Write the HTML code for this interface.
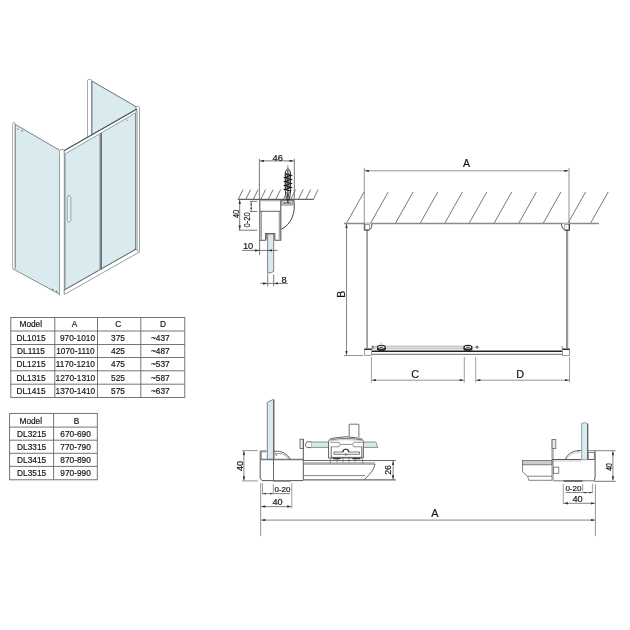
<!DOCTYPE html>
<html><head><meta charset="utf-8">
<style>
html,body{margin:0;padding:0;background:#fff;width:630px;height:630px;overflow:hidden}
svg{position:absolute;left:0;top:0;display:block;filter:blur(0.3px)}
text{font-family:"Liberation Sans",sans-serif;fill:#151515;stroke:#151515;stroke-width:0.18px}
</style></head>
<body>
<svg width="630" height="630" viewBox="0 0 630 630">
<defs>
<marker id="ar" viewBox="0 0 10 6" refX="10" refY="3" markerWidth="4.6" markerHeight="2.5" orient="auto-start-reverse" markerUnits="userSpaceOnUse"><path d="M0,0 L10,3 L0,6 z" fill="#333"/></marker>
<marker id="ars" viewBox="0 0 10 6" refX="10" refY="3" markerWidth="3" markerHeight="2" orient="auto-start-reverse" markerUnits="userSpaceOnUse"><path d="M0,0 L10,3 L0,6 z" fill="#333"/></marker>
</defs>
<rect width="630" height="630" fill="#fff"/>

<!-- ============ ISOMETRIC ============ -->
<g id="iso" fill="none" stroke="#8c9497" stroke-width="0.9">
  <!-- glass fills -->
  <polygon fill="#daebf0" stroke="none" points="92,81 136,106.5 136,110 92,135"/>
  <polygon fill="#daebf0" stroke="none" points="15.5,125 59.5,150.5 59.5,294 15.5,269"/>
  <polygon fill="#daebf0" stroke="none" points="64,154 136,113 136,249.5 64,290"/>
  <!-- back panel -->
  <path d="M87.5,137 V80.4 A2.15,1 0 0 1 91.8,80.4 V137" fill="#fff" stroke="#9aa2a5"/>
  <line x1="91.8" y1="81" x2="91.8" y2="136" stroke="#7a8285" stroke-width="1.1"/>
  <line x1="91.8" y1="81" x2="137" y2="107.2" stroke="#5f676a"/>
  <!-- left panel -->
  <path d="M12.6,268.3 V123.3 A1.35,1 0 0 1 15.3,123.3 V268.6" fill="#fff" stroke="#a0a8ab"/>
  <line x1="15.3" y1="124" x2="15.3" y2="268.6" stroke="#8f979a" stroke-width="1.3"/>
  <line x1="15.6" y1="124.6" x2="59.5" y2="150.2" stroke="#6a7275"/>
  <line x1="12.5" y1="268.5" x2="59.5" y2="294.2" stroke="#6f777a"/>
  <!-- front corner post -->
  <path d="M59.5,295.6 V150.6 A2.4,1.1 0 0 1 64.3,150.6 V294" fill="#fff" stroke="#8c9497"/>
  <line x1="64.9" y1="152" x2="64.9" y2="294" stroke="#8a9295" stroke-width="1.3"/>
  <!-- right post -->
  <path d="M135.7,252.2 V107.4 A1.9,1 0 0 1 139.5,107.4 V251.5" fill="#fff" stroke="#8c9497"/>
  <line x1="135.7" y1="110" x2="135.7" y2="250" stroke="#7f8789" stroke-width="1.1"/>
  <line x1="137.1" y1="111" x2="137.1" y2="250.5" stroke="#b4b8ba" stroke-width="1.3"/>
  <!-- top rail -->
  <polygon points="64.3,150.6 137,109 136,112.7 64.3,154.4" fill="#fff" stroke="#8c9497"/>
  <line x1="64.3" y1="150.6" x2="137" y2="109" stroke="#505759" stroke-width="1.1"/>
  <!-- bottom rail -->
  <polygon points="64.3,290 135.7,249.3 139.5,252 64.3,294.5" fill="#fff" stroke="#8c9497"/>
  <line x1="64.3" y1="290" x2="135.7" y2="249.3" stroke="#6a7275" stroke-width="1"/>
  <!-- middle divider -->
  <line x1="99.6" y1="133" x2="99.6" y2="269.5" stroke="#aab2b5" stroke-width="0.9"/>
  <line x1="101.1" y1="133" x2="101.1" y2="269.5" stroke="#6a7073" stroke-width="1.8"/>
  <!-- handle -->
  <polygon points="67.3,197.2 69,194.9 70.9,197.2 70.9,220.6 69,222.8 67.3,220.6" fill="#e2f0f4" stroke="#8c9497" stroke-width="0.8"/>
  <!-- small marks -->
  <g stroke="#444" stroke-width="0.9">
    <line x1="17.8" y1="128.5" x2="18.2" y2="129.8"/><line x1="21.5" y1="130.5" x2="23" y2="131.2"/>
    <line x1="56" y1="290.8" x2="57.3" y2="292"/><line x1="52" y1="289" x2="53.5" y2="289.8"/>
    <line x1="126.5" y1="119.8" x2="127.5" y2="120.6"/>
    <line x1="134" y1="250" x2="135.5" y2="249"/>
  </g>
</g>

<!-- ============ TABLE 1 ============ -->
<g fill="none" stroke="#666" stroke-width="0.9">
  <rect x="10.8" y="317.5" width="174" height="80"/>
  <line x1="10.8" y1="331" x2="184.8" y2="331"/>
  <line x1="10.8" y1="344.5" x2="184.8" y2="344.5"/>
  <line x1="10.8" y1="357.5" x2="184.8" y2="357.5"/>
  <line x1="10.8" y1="370.8" x2="184.8" y2="370.8"/>
  <line x1="10.8" y1="384.2" x2="184.8" y2="384.2"/>
  <line x1="54.8" y1="317.5" x2="54.8" y2="397.5"/>
  <line x1="97.5" y1="317.5" x2="97.5" y2="397.5"/>
  <line x1="140.8" y1="317.5" x2="140.8" y2="397.5"/>
</g>
<g font-size="8.3" text-anchor="middle">
  <text x="30.8" y="327.3">Model</text><text x="74.6" y="327.3">A</text><text x="118.2" y="327.3">C</text><text x="162.9" y="327.3">D</text>
  <text x="31" y="340.6">DL1015</text><text x="77.5" y="340.6">970-1010</text><text x="118" y="340.6">375</text><text x="160.3" y="340.6">~437</text>
  <text x="31" y="354">DL1115</text><text x="75.4" y="354">1070-1110</text><text x="118" y="354">425</text><text x="160.3" y="354">~487</text>
  <text x="31" y="367.3">DL1215</text><text x="75.4" y="367.3">1170-1210</text><text x="118" y="367.3">475</text><text x="160.3" y="367.3">~537</text>
  <text x="31" y="380.6">DL1315</text><text x="75.4" y="380.6">1270-1310</text><text x="118" y="380.6">525</text><text x="160.3" y="380.6">~587</text>
  <text x="31" y="394">DL1415</text><text x="75.4" y="394">1370-1410</text><text x="118" y="394">575</text><text x="160.3" y="394">~637</text>
</g>

<!-- ============ TABLE 2 ============ -->
<g fill="none" stroke="#666" stroke-width="0.9">
  <rect x="9.6" y="413.4" width="87.7" height="66.4"/>
  <line x1="9.6" y1="427.1" x2="97.3" y2="427.1"/>
  <line x1="9.6" y1="440.2" x2="97.3" y2="440.2"/>
  <line x1="9.6" y1="453.3" x2="97.3" y2="453.3"/>
  <line x1="9.6" y1="466.4" x2="97.3" y2="466.4"/>
  <line x1="53.6" y1="413.4" x2="53.6" y2="479.8"/>
</g>
<g font-size="8.3" text-anchor="middle">
  <text x="30.8" y="423.6">Model</text><text x="76.5" y="423.6">B</text>
  <text x="31.6" y="436.7">DL3215</text><text x="75.6" y="436.7">670-690</text>
  <text x="31.6" y="449.8">DL3315</text><text x="75.6" y="449.8">770-790</text>
  <text x="31.6" y="462.9">DL3415</text><text x="75.6" y="462.9">870-890</text>
  <text x="31.6" y="476">DL3515</text><text x="75.6" y="476">970-990</text>
</g>


<!-- ============ TOP DETAIL ============ -->
<g fill="none" stroke="#555" stroke-width="0.8">
  <line x1="238.30" y1="199.3" x2="243.10" y2="189.5"/><line x1="245.81" y1="199.3" x2="250.61" y2="189.5"/><line x1="253.32" y1="199.3" x2="258.12" y2="189.5"/><line x1="260.83" y1="199.3" x2="265.63" y2="189.5"/><line x1="268.34" y1="199.3" x2="273.14" y2="189.5"/><line x1="275.85" y1="199.3" x2="280.65" y2="189.5"/><line x1="283.36" y1="199.3" x2="288.16" y2="189.5"/><line x1="290.87" y1="199.3" x2="295.67" y2="189.5"/><line x1="298.38" y1="199.3" x2="303.18" y2="189.5"/><line x1="305.89" y1="199.3" x2="310.69" y2="189.5"/><line x1="313.40" y1="199.3" x2="318.20" y2="189.5"/>
  <line x1="237.8" y1="199.4" x2="313.7" y2="199.4" stroke="#666" stroke-width="1.2"/>
  <!-- dim 46 -->
  <line x1="259.4" y1="158.9" x2="259.4" y2="199"/>
  <line x1="294.3" y1="158.9" x2="294.3" y2="199"/>
  <line x1="260" y1="160.9" x2="293.7" y2="160.9" marker-start="url(#ar)" marker-end="url(#ar)"/>
  <!-- dim 40 -->
  <line x1="239.7" y1="200" x2="239.7" y2="229.7" marker-start="url(#ar)" marker-end="url(#ar)"/>
  <line x1="238.5" y1="230.2" x2="257.2" y2="230.2"/>
  <!-- dim 0-20 -->
  <line x1="251.2" y1="201.3" x2="251.2" y2="211.5"/>
  <line x1="249.9" y1="201.3" x2="257.2" y2="201.3"/>
  <line x1="249.9" y1="211.5" x2="257.2" y2="211.5"/>
  <circle cx="251.2" cy="204.3" r="0.8" fill="#333" stroke="none"/>
  <circle cx="251.2" cy="208.3" r="0.8" fill="#333" stroke="none"/>
  <!-- dim 10 -->
  <line x1="259.6" y1="240" x2="259.6" y2="255"/>

  <!-- dim 8 -->
  <line x1="267.7" y1="274.5" x2="267.7" y2="286.3"/>
  <line x1="273.7" y1="274.5" x2="273.7" y2="286.3"/>
  <line x1="267.7" y1="283.4" x2="273.7" y2="283.4"/>
  <line x1="260.5" y1="283.4" x2="267.3" y2="283.4" marker-end="url(#ar)"/>
  <line x1="287.8" y1="283.4" x2="274.1" y2="283.4" marker-end="url(#ar)"/>
  <!-- bracket -->
  <path d="M259.8,199.8 H280.8 V240.2 H274.8 V233.5 H265.7 V240.2 H259.8 Z" stroke="#555" stroke-width="1.1"/>
  <line x1="261.4" y1="211.3" x2="261.4" y2="239.5" stroke="#999" stroke-width="1.1"/>
  <line x1="279.3" y1="211.3" x2="279.3" y2="239.5" stroke="#999" stroke-width="1.1"/>
  <line x1="259.8" y1="211.3" x2="280.8" y2="211.3" stroke="#666" stroke-width="1"/>
  <line x1="260.5" y1="200.8" x2="280" y2="200.8" stroke="#999" stroke-width="0.8"/>
  <path d="M266.6,239.5 V234.6 H273.9 V239.5" stroke="#8a8a8a" stroke-width="1.3"/>
  <!-- cover -->
  <path d="M280.8,200 H293.8 C296,212 291.5,224.5 281.4,229.2" stroke="#444" stroke-width="1"/>
  
  <path d="M281.8,200.8 H292.8 V205 H281.8 Z" fill="#fff" stroke="#555" stroke-width="0.8"/><line x1="283" y1="203" x2="291.5" y2="203" stroke="#222" stroke-width="1"/>
  <!-- glass -->
  <path d="M267.6,234 V273.5 L273.7,271.6 V234 Z" fill="#d8eaf0" stroke="#777" stroke-width="0.9"/>
  <line x1="242" y1="250.4" x2="259.2" y2="250.4" marker-end="url(#ar)"/>
  <line x1="277.6" y1="250.4" x2="268" y2="250.4" marker-end="url(#ar)"/>
  <line x1="259" y1="250.4" x2="268" y2="250.4"/>
  <!-- screw -->
  <line x1="287.9" y1="165.3" x2="287.9" y2="170" stroke="#666"/>
  <path d="M285.3,191 V173 Q286,169 287.9,168.6 Q289.8,169 290.6,173 V191 L289.4,199.5 H286.4 Z" stroke="#333" stroke-width="1" fill="#fff"/>
  <path d="M284.8,173.5 L291,175.5 L284.8,177.5 L291,179.5 L284.8,181.5 L291,183.5 L284.8,185.5 L291,187.5 L284.8,189.5 L291,191" stroke="#111" stroke-width="1.2"/>
  <path d="M284.8,175.5 L291,173.5 M284.8,179.5 L291,177.5 M284.8,183.5 L291,181.5 M284.8,187.5 L291,185.5" stroke="#333" stroke-width="1"/>
  <path d="M286,192 L289.6,198 M289.8,192 L286.2,198" stroke="#555" stroke-width="0.7"/>
  <line x1="287.9" y1="170" x2="287.9" y2="203" stroke="#222" stroke-width="1.1"/>
</g>
<g font-size="9.4" fill="#151515">
  <text x="277.7" y="160.6" text-anchor="middle">46</text>
  <text x="248.1" y="248.8" text-anchor="middle">10</text>
  <text x="284.2" y="282.6" text-anchor="middle">8</text>
  <text transform="translate(238.5,213.9) rotate(-90)" text-anchor="middle" textLength="8.4" lengthAdjust="spacingAndGlyphs">40</text>
  <text transform="translate(249.9,219.9) rotate(-90)" text-anchor="middle" font-size="8.6" textLength="15.4" lengthAdjust="spacingAndGlyphs">0-20</text>
</g>


<!-- ============ ELEVATION ============ -->
<g fill="none" stroke="#555" stroke-width="0.8">
  <line x1="346.3" y1="223.5" x2="364.1" y2="192"/><line x1="370.4" y1="223.5" x2="388.2" y2="192"/><line x1="395.3" y1="223.5" x2="413.1" y2="192"/><line x1="420.0" y1="223.5" x2="437.8" y2="192"/><line x1="444.6" y1="223.5" x2="462.4" y2="192"/><line x1="469.0" y1="223.5" x2="486.8" y2="192"/><line x1="493.9" y1="223.5" x2="511.7" y2="192"/><line x1="518.6" y1="223.5" x2="536.4" y2="192"/><line x1="543.1" y1="223.5" x2="560.9" y2="192"/><line x1="567.8" y1="223.5" x2="585.6" y2="192"/><line x1="590.4" y1="223.5" x2="608.2" y2="192"/>
  <line x1="344" y1="223.5" x2="599" y2="223.5" stroke="#8a8a8a" stroke-width="1.3"/>
  <!-- dim A -->
  <line x1="364.3" y1="167.8" x2="364.3" y2="223.5" stroke="#777"/>
  <line x1="569" y1="167.8" x2="569" y2="223.5" stroke="#777"/>
  <line x1="364.8" y1="170.8" x2="568.5" y2="170.8" stroke="#777" marker-start="url(#ar)" marker-end="url(#ar)"/>
  <!-- dim B -->
  <line x1="346.5" y1="224" x2="346.5" y2="355" stroke="#666" marker-start="url(#ar)" marker-end="url(#ar)"/>
  <line x1="344" y1="355.5" x2="363" y2="355.5" stroke="#777"/>
  <!-- dim C / D -->
  <line x1="371.4" y1="357" x2="371.4" y2="382.6" stroke="#888"/>
  <line x1="464.3" y1="357" x2="464.3" y2="382.6" stroke="#888"/>
  <line x1="475.7" y1="357" x2="475.7" y2="382.6" stroke="#888"/>
  <line x1="569.5" y1="357" x2="569.5" y2="382.6" stroke="#888"/>
  <line x1="371.9" y1="380.2" x2="463.8" y2="380.2" stroke="#777" marker-start="url(#ar)" marker-end="url(#ar)"/>
  <line x1="476.2" y1="380.2" x2="569" y2="380.2" stroke="#777" marker-start="url(#ar)" marker-end="url(#ar)"/>
  <!-- glass lines -->
  <line x1="367.1" y1="229" x2="367.1" y2="349" stroke="#999" stroke-width="1.7"/>
  <line x1="567.1" y1="229" x2="567.1" y2="349" stroke="#999" stroke-width="2.2"/>
  <!-- top brackets -->
  <path d="M364.3,223.6 V230.2 H369 Q372.5,228 371.8,223.6" stroke="#333" stroke-width="0.9" fill="#fff"/>
  <path d="M569.5,223.6 V230.5 H565.2 Q561.5,229 561.4,223.8" stroke="#333" stroke-width="0.9" fill="#fff"/>
  <rect x="365" y="224.5" width="4.5" height="5" stroke="#666" stroke-width="0.6"/>
  <rect x="564.8" y="224.5" width="4" height="5" stroke="#666" stroke-width="0.6"/>
  <!-- upper band -->
  <rect x="372" y="346" width="100.5" height="3" fill="#d9d9d9" stroke="#aaa" stroke-width="0.6"/>
  <!-- rail -->
  <line x1="371.5" y1="351.2" x2="562.4" y2="351.2" stroke="#222" stroke-width="1.4"/>
  <line x1="371.5" y1="354.3" x2="562.4" y2="354.3" stroke="#888" stroke-width="1.2"/>
  <!-- blocks -->
  <rect x="364.6" y="348.7" width="6.9" height="6.7" fill="#fff" stroke="#9a9a9a" stroke-width="1"/>
  <line x1="364.6" y1="349.4" x2="371.5" y2="349.4" stroke="#333" stroke-width="1.3"/>
  <rect x="562.5" y="348.7" width="7" height="6.8" fill="#fff" stroke="#9a9a9a" stroke-width="1"/>
  <line x1="562.5" y1="349.4" x2="569.5" y2="349.4" stroke="#333" stroke-width="1.3"/>
  <!-- rollers -->
  <path d="M377.6,347.3 V350 Q381.4,351.8 385.2,350 V347.3" fill="#555" stroke="#222" stroke-width="0.9"/>
  <ellipse cx="381.4" cy="347.3" rx="3.9" ry="2" fill="#fff" stroke="#222" stroke-width="1.2"/>
  <ellipse cx="381.4" cy="347.4" rx="2" ry="0.7" fill="#555" stroke="none"/>
  <line x1="381.4" y1="342.6" x2="381.4" y2="345.3" stroke="#c4c4c4" stroke-width="1.5"/>
  <path d="M464,347.3 V350 Q467.9,351.8 471.8,350 V347.3" fill="#555" stroke="#222" stroke-width="0.9"/>
  <ellipse cx="467.9" cy="347.3" rx="3.9" ry="2" fill="#fff" stroke="#222" stroke-width="1.2"/>
  <ellipse cx="467.9" cy="347.4" rx="2" ry="0.7" fill="#555" stroke="none"/>
  <circle cx="477.1" cy="347.2" r="1.1" stroke="#333" stroke-width="0.9"/>
  <line x1="472" y1="347.4" x2="476" y2="347.4" stroke="#aaa" stroke-width="0.6"/>
  <path d="M371.8,346.5 L373.5,346.8 L372.4,349" stroke="#333" stroke-width="0.8"/>
  <path d="M562,346 L562.3,348.6" stroke="#555" stroke-width="0.7"/>
</g>
<g font-size="10.5" fill="#151515" text-anchor="middle">
  <text x="466.4" y="166.9">A</text>
  <text x="415.2" y="377.9" font-size="10.8">C</text>
  <text x="520.2" y="377.9" font-size="10.8">D</text>
  <text transform="translate(345.2,294.3) rotate(-90)">B</text>
</g>


<!-- ============ BOTTOM LEFT SECTION ============ -->
<g fill="none" stroke="#555" stroke-width="0.8">
  <!-- vertical glass -->
  <path d="M267.3,459.4 V402.3 L273.8,399.2 V459.4 Z" fill="#d8eaf0" stroke="#777" stroke-width="0.9"/>
  <line x1="273.8" y1="400" x2="273.8" y2="459.4" stroke="#555" stroke-width="1"/>
  <!-- profile -->
  <path d="M266.7,451 H260.2 V478.2 L262,480.6 H303.3" stroke="#555" stroke-width="1"/>
  <path d="M273.5,481.3 H291" stroke="#999" stroke-width="1.4"/>
  <path d="M261.5,459 V452 H266" stroke="#999" stroke-width="0.9"/>
  <line x1="260" y1="459.5" x2="303.3" y2="459.5" stroke="#7a7a7a" stroke-width="1.5"/>
  <line x1="273.5" y1="459.4" x2="273.5" y2="480.9" stroke="#555" stroke-width="0.9"/>
  <!-- seal -->
  <path d="M274,451.3 Q285,450 290.6,459.4" stroke="#555" stroke-width="0.9"/>
  <path d="M275,453.8 Q283.5,451.8 289,459" stroke="#888" stroke-width="0.8"/>
  <path d="M275.5,453.5 L277,456" stroke="#555" stroke-width="0.8"/>
  <!-- knob -->
  <rect x="300" y="439.2" width="3.5" height="9.3" fill="#eee" stroke="#555" stroke-width="0.8"/>
  <line x1="303.3" y1="439.2" x2="303.3" y2="479.8" stroke="#555" stroke-width="1"/>
  <!-- dim 40 vertical -->
  <line x1="242.2" y1="450.6" x2="257.8" y2="450.6" stroke="#777"/>
  <line x1="242.2" y1="480.9" x2="257.8" y2="480.9" stroke="#777"/>
  <line x1="243.9" y1="451.1" x2="243.9" y2="480.4" stroke="#666" marker-start="url(#ar)" marker-end="url(#ar)"/>
  <!-- dims below -->
  <line x1="260.7" y1="483" x2="260.7" y2="536.2" stroke="#888" stroke-width="0.9"/>
  <line x1="262.5" y1="483.5" x2="262.5" y2="494.5" stroke="#888"/>
  <line x1="273.3" y1="484" x2="273.3" y2="494.4" stroke="#888"/>
  <line x1="291.8" y1="483" x2="291.8" y2="508.6" stroke="#888"/>
  <line x1="262.9" y1="493.6" x2="272.9" y2="493.6" stroke="#666" marker-start="url(#ars)" marker-end="url(#ars)"/>
  <line x1="273.3" y1="493.6" x2="290" y2="493.6" stroke="#666"/>
  <line x1="261.2" y1="506.6" x2="291.3" y2="506.6" stroke="#666" marker-start="url(#ar)" marker-end="url(#ar)"/>

  <!-- base profile -->
  <line x1="303.3" y1="460.5" x2="395.8" y2="460.5" stroke="#6a6a6a" stroke-width="1.2"/>
  <line x1="303.3" y1="462.6" x2="375" y2="462.6" stroke="#999" stroke-width="0.7"/>
  <path d="M303.3,464 H375 Q374,471 364.3,479.6" stroke="#555" stroke-width="0.9"/>
  <line x1="303.3" y1="475.6" x2="365.5" y2="475.6" stroke="#777" stroke-width="0.9"/>
  <line x1="303.3" y1="479.9" x2="395.8" y2="479.9" stroke="#444" stroke-width="1"/>
  <!-- dim 26 -->
  <line x1="393.1" y1="461" x2="393.1" y2="479.4" stroke="#666" marker-start="url(#ar)" marker-end="url(#ar)"/>

  <!-- roller housing -->
  <path d="M349.2,437 V424.2 H358.9 V437" stroke="#666" stroke-width="0.9" fill="#fff"/>
  <!-- horizontal glass -->
  <path d="M311.4,442 H375.8 L377.8,447.4 H311.4 Z" fill="#d3ebe5" stroke="#777" stroke-width="0.8"/>
  <path d="M311.4,441.8 H307 Q303.8,444.7 307,447.6 H311.4" fill="#fff" stroke="#555" stroke-width="0.9"/>
  <path d="M328.5,458 V441.5 Q329,438.5 334,438 Q346,435.5 358,438 Q363,438.5 363.4,441.5 V458 Z" stroke="#555" stroke-width="0.9" fill="#fff"/>
  <path d="M330.5,440 Q346,436.8 362,440" stroke="#555" stroke-width="0.8"/>
  <path d="M328.8,440.8 Q346,438.2 363.8,440.8" stroke="#aaa" stroke-width="0.6"/>
  <path d="M330,442.3 H339 L340.2,444.4 H352.6 L353.8,442.3 H362.5" stroke="#777" stroke-width="0.8"/>
  <path d="M331,446.8 H339 L340.2,444.6 M352.6,444.6 L353.8,446.8 H361.8" stroke="#777" stroke-width="0.8"/>
  <path d="M331.2,446.8 V457.4 H361.8 V446.8" stroke="#555" stroke-width="0.9"/>
  <path d="M334,452 H343 A2.8,2.8 0 0 1 348.6,452 H359.5 V454.3 H334 Z" stroke="#555" stroke-width="0.8"/>
  <path d="M342.8,452.3 A3,3 0 0 1 348.8,452.3" stroke="#333" stroke-width="1.1"/>
  <circle cx="345.8" cy="454.5" r="0.9" stroke="#555" stroke-width="0.6"/>
  <g stroke="#666" stroke-width="0.7">
    <line x1="331" y1="458" x2="330" y2="463.5"/><line x1="337" y1="458" x2="337" y2="462.5"/>
    <line x1="343" y1="458" x2="343" y2="462.5"/><line x1="349" y1="458" x2="349" y2="462.5"/>
    <line x1="355" y1="458" x2="355" y2="462.5"/><line x1="362" y1="458" x2="363" y2="463.5"/>
  </g>
  <path d="M333.5,458.7 H340 M353,458.7 H359.5" stroke="#333" stroke-width="1.3" stroke-linecap="round"/>
</g>
<g font-size="9.2" fill="#151515" text-anchor="middle">
  <text transform="translate(242.6,465.9) rotate(-90)">40</text>
  <text x="282.5" y="492.4" font-size="8">0-20</text>
  <text x="277.5" y="505.2">40</text>
  <text transform="translate(391.4,469.9) rotate(-90)" font-size="8.8">26</text>
</g>

<!-- ============ BOTTOM RIGHT SECTION ============ -->
<g fill="none" stroke="#555" stroke-width="0.8">
  <!-- left profile -->
  <rect x="522.6" y="460.5" width="29.5" height="4.3" fill="#ccc" stroke="#666" stroke-width="0.8"/>
  <path d="M522.6,464.8 V471.9 L527.6,476.2 H552 M527.6,476.2 L528.8,480.3 H552" stroke="#777" stroke-width="0.9"/>
  <!-- vertical double line -->
  <line x1="552.1" y1="439.5" x2="552.1" y2="480.8" stroke="#666" stroke-width="0.9"/>
  <line x1="553.5" y1="446" x2="553.5" y2="480.8" stroke="#aaa" stroke-width="0.8"/>
  <rect x="552.1" y="439.5" width="3.7" height="9.1" fill="#e8e8e8" stroke="#666" stroke-width="0.8"/>
  <rect x="553.5" y="467.1" width="5.3" height="6.2" stroke="#666" stroke-width="0.8"/>
  <!-- main profile -->
  <line x1="552.1" y1="459.5" x2="581.1" y2="459.5" stroke="#555" stroke-width="1"/>
  <line x1="552.1" y1="461" x2="581" y2="461" stroke="#aaa" stroke-width="0.6"/>
  <path d="M577,450.7 H615.7" stroke="#777" stroke-width="0.9"/>
  <path d="M595.1,450.7 V477 L594.3,480.8" stroke="#555" stroke-width="1"/>
  <path d="M553.5,480.8 H594.5 M594.5,481.3 H615.7" stroke="#666" stroke-width="0.9"/>
  <path d="M563.5,481 H582.5" stroke="#555" stroke-width="1.5"/>
  <rect x="588.1" y="452.6" width="6.2" height="6.8" stroke="#666" stroke-width="0.8"/>
  <line x1="588.1" y1="459.5" x2="595" y2="459.5" stroke="#555" stroke-width="0.9"/>
  <!-- seal -->
  <path d="M565.2,459.3 Q569,450.5 580.5,450.5" stroke="#555" stroke-width="0.9"/>
  <path d="M566.5,459 Q570,452.5 580,452.5" stroke="#aaa" stroke-width="0.6"/>
  <!-- glass -->
  <path d="M581.6,459.8 V423.6 Q584.6,421.6 587.7,423.6 V459.8 Z" fill="#d8ebee" stroke="#8a9a9a" stroke-width="0.9"/>
  <line x1="587.7" y1="424" x2="587.7" y2="459.8" stroke="#555c60" stroke-width="1.1"/>
  <!-- dim 40 -->
  <line x1="612.9" y1="451.2" x2="612.9" y2="480.3" stroke="#666" marker-start="url(#ar)" marker-end="url(#ar)"/>
  <!-- dims below -->
  <line x1="563.3" y1="484" x2="563.3" y2="504" stroke="#888"/>
  <line x1="582.7" y1="484" x2="582.7" y2="491.5" stroke="#888"/>
  <line x1="592.4" y1="484" x2="592.4" y2="493" stroke="#888"/>
  <line x1="595.4" y1="484" x2="595.4" y2="536.2" stroke="#888" stroke-width="0.9"/>
  <line x1="565.5" y1="492.5" x2="582.7" y2="492.5" stroke="#666"/>
  <line x1="583" y1="492.5" x2="592.2" y2="492.5" stroke="#666" marker-start="url(#ars)" marker-end="url(#ars)"/>
  <line x1="563.8" y1="503.3" x2="594.9" y2="503.3" stroke="#666" marker-start="url(#ar)" marker-end="url(#ar)"/>
  <!-- dim A bottom -->
  <line x1="261.2" y1="520.1" x2="594.9" y2="520.1" stroke="#777" stroke-width="0.9" marker-start="url(#ar)" marker-end="url(#ar)"/>
</g>
<g font-size="9.2" fill="#151515" text-anchor="middle">
  <text transform="translate(612.2,467) rotate(-90)" textLength="7.6" lengthAdjust="spacingAndGlyphs">40</text>
  <text x="573.4" y="490.7" font-size="8">0-20</text>
  <text x="577.6" y="501.9">40</text>
  <text x="434.9" y="517.4" font-size="10.8">A</text>
</g>

</svg>
</body></html>
